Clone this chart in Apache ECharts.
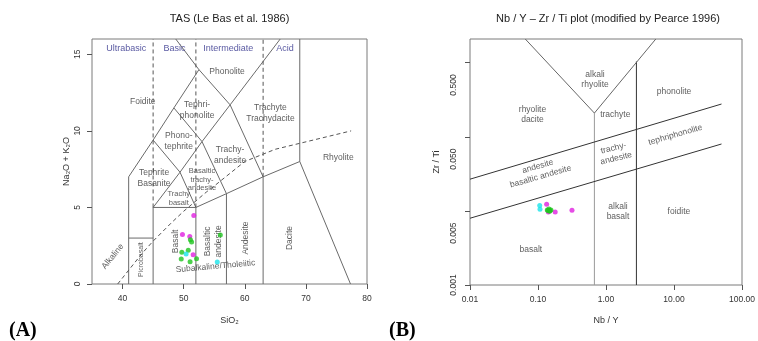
<!DOCTYPE html>
<html><head><meta charset="utf-8">
<script src="https://cdn.jsdelivr.net/npm/echarts@6/dist/echarts.min.js"></script>
<style>html,body{margin:0;padding:0;background:#fff}#c{width:758px;height:341px}</style>
</head><body><div id="c"></div>
<script>
// ---------- Panel A: TAS data ----------
const tasXTicks = [40, 50, 60, 70, 80];
const tasYTicks = [0, 5, 10, 15];
const tasBoundaries = [
  [[41,0],[41,7],[45,9.4],[48.4,11.5],[52.5,14],[48.7,16]],
  [[41,3],[45,3]],
  [[45,0],[45,5],[52,5]],
  [[52,0],[52,5],[57,5.9],[63,7],[69,8],[77.3,0]],
  [[57,0],[57,5.9]],
  [[63,0],[63,7]],
  [[45,5],[49.4,7.3],[52,5]],
  [[45,9.4],[49.4,7.3],[53,9.3],[57,5.9]],
  [[48.4,11.5],[53,9.3],[57.6,11.7],[63,7]],
  [[52.5,14],[57.6,11.7],[65.8,16]],
  [[69,8],[69,16]]
];
const tasDivisions = [[[45,5],[45,16]], [[52,5],[52,16]], [[63,7],[63,16]]];
const alkalineCurve = [[39.2,0],[40,0.4],[43.2,2],[45,2.8],[48,4],[50,4.75],[53.7,6],[55,6.4],[60,8],[65,8.8],[77.4,10]];
const tasGroupNames = ['Ultrabasic','Basic','Intermediate','Acid'];
const tasGroupX = [40.6, 48.5, 57.3, 66.6];
const tasGroupY = [15.4, 15.4, 15.4, 15.4];
const tasFieldNames = ['Foidite','Phonolite','Tephri-\nphonolite','Trachyte\nTrachydacite','Phono-\ntephrite','Trachy-\nandesite','Rhyolite','Tephrite\nBasanite','Basaltic\ntrachy-\nandesite','Trachy\nbasalt','Basalt','Basaltic\nandesite','Andesite','Dacite','Picrobasalt','Alkaline','Subalkaline/Tholeiitic'];
const tasFieldX = [43.3, 57.1, 52.2, 64.2, 49.2, 57.6, 75.3, 45.15, 53.0, 49.2, 48.7, 54.9, 60.2, 67.4, 43.1, 38.4, 55.2];
const tasFieldY = [11.9, 13.9, 11.35, 11.16, 9.31, 8.44, 8.22, 6.92, 6.8, 5.6, 2.78, 2.78, 3.0, 3.0, 1.59, 1.8, 1.15];
const tasMagenta = [[51.66,4.48],[49.8,3.24],[51.0,3.1],[51.55,1.91]];
const tasGreen = [[51.1,2.89],[51.3,2.74],[49.7,2.07],[50.75,2.2],[49.6,1.63],[51.05,1.45],[52.1,1.65],[56.0,3.2]];
const tasCyan = [[50.4,1.96],[55.5,1.44]];

// ---------- Panel B: Nb/Y - Zr/Ti data ----------
const nbyTicks = [0.01, 0.1, 1, 10, 100];
const nbyTickLabels = ['0.01','0.10','1.00','10.00','100.00'];
const zrtiTicks = [0.001, 0.01, 0.1, 1];
const zrtiLabelValues = [0.001, 0.005, 0.05, 0.5];
const pearceBoundaries = [
  [[0.675,0.001],[0.675,0.209]],
  [[2.8,0.001],[2.8,1.04]],
  [[0.065,2.09],[0.675,0.209],[5.4,2.09]],
  [[0.01,0.0268],[50,0.277]],
  [[0.01,0.00796],[50,0.080]]
];
const pearceFieldNames = ['alkali\nrhyolite','rhyolite\ndacite','trachyte','phonolite','trachy-\nandesite','tephriphonolite','andesite\nbasaltic andesite','alkali\nbasalt','foidite','basalt'];
const pearceFieldX = [0.69, 0.083, 1.37, 10, 1.35, 10.5, 0.104, 1.5, 11.8, 0.0786];
const pearceFieldY = [0.589, 0.198, 0.2, 0.41, 0.060, 0.106, 0.034, 0.0098, 0.0098, 0.00297];
const pearceMagenta = [[0.134,0.0123],[0.142,0.0097],[0.179,0.0097],[0.316,0.0102]];
const pearceGreen = [[0.137,0.0103],[0.145,0.0106],[0.150,0.0101],[0.155,0.0103],[0.148,0.0099],[0.140,0.0101]];
const pearceCyan = [[0.106,0.0118],[0.107,0.0105]];

// ---------- styling ----------
const FONT = 'Liberation Sans, Arial, sans-serif';
const TEXT = '#333';
const lg = v => Math.log10(v);
const lgPt = p => [lg(p[0]), lg(p[1])];

const tasFieldRot = [0,0,0,0,0,0,0,0,0,0,90,90,90,90,90,51,5];
const tasFieldSize = [8.5,8.5,8.5,8.5,8.5,8.5,8.5,8.5,7.5,7.5,8.5,8.5,8.5,8.5,7,8.5,8.5];
const tasFieldLH = [11,11,11,11,11,11,11,11,8.5,9,11,11,11,11,11,11,11];
const pearceFieldRot = [0,0,0,0,14,16,16,0,0,0];

function lines(list, xi, color, type, tf) {
  return list.map(pts => ({
    type: 'line', xAxisIndex: xi, yAxisIndex: xi, silent: true, symbol: 'none',
    data: tf ? pts.map(tf) : pts,
    lineStyle: { color: color, width: 1, type: type || 'solid' }, z: 2
  }));
}
function labels(names, xs, ys, xi, rot, size, lh, color, tf) {
  return {
    type: 'scatter', xAxisIndex: xi, yAxisIndex: xi, silent: true, symbolSize: 1,
    itemStyle: { color: 'rgba(0,0,0,0)' }, z: 3,
    data: names.map((n, i) => {
      const p = tf ? tf([xs[i], ys[i]]) : [xs[i], ys[i]];
      return {
        name: n, value: p,
        label: { show: true, position: 'inside', formatter: '{b}', rotate: rot ? rot[i] : 0,
          fontSize: size ? (Array.isArray(size) ? size[i] : size) : 8.5,
          lineHeight: lh ? (Array.isArray(lh) ? lh[i] : lh) : 11,
          color: color, fontFamily: FONT, align: 'center', verticalAlign: 'middle' }
      };
    })
  };
}
function pts(data, xi, color, tf) {
  return { type: 'scatter', xAxisIndex: xi, yAxisIndex: xi, silent: true, symbolSize: 5,
    itemStyle: { color: color }, data: tf ? data.map(tf) : data, z: 5 };
}

const tickLabel = { fontSize: 8.5, color: TEXT, fontFamily: FONT };
const noLine = { show: false, onZero: false };
const series = [].concat(
  lines(tasBoundaries, 0, '#6a6a6a'),
  lines(tasDivisions, 0, '#555', [4, 3]),
  lines([alkalineCurve], 0, '#555', [4, 3]),
  [labels(tasGroupNames, tasGroupX, tasGroupY, 0, null, 9, 11, '#2e2e8a')],
  [labels(tasFieldNames, tasFieldX, tasFieldY, 0, tasFieldRot, tasFieldSize, tasFieldLH, TEXT)],
  [pts(tasMagenta, 0, '#e020e0'), pts(tasGreen, 0, '#1fc41f'), pts(tasCyan, 0, '#19e3ea')],
  lines(pearceBoundaries.slice(0, 1), 1, '#9a9a9a', 'solid', lgPt),
  lines(pearceBoundaries.slice(1, 2), 1, '#333', 'solid', lgPt),
  lines(pearceBoundaries.slice(2, 3), 1, '#666', 'solid', lgPt),
  lines(pearceBoundaries.slice(3), 1, '#333', 'solid', lgPt),
  [labels(pearceFieldNames, pearceFieldX, pearceFieldY, 1, pearceFieldRot, 8.5, 10.5, TEXT, lgPt)],
  [pts(pearceCyan, 1, '#19e3ea', lgPt), pts(pearceMagenta, 1, '#e020e0', lgPt), pts(pearceGreen, 1, '#1fc41f', lgPt)]
);

const option = {
  animation: false,
  grid: [
    { left: 92, top: 39, width: 275, height: 245, show: true, borderColor: '#7a7a7a', borderWidth: 1, backgroundColor: 'transparent' },
    { left: 470, top: 39, width: 276, height: 246, show: true, borderColor: '#7a7a7a', borderWidth: 1, backgroundColor: 'transparent' }
  ],
  xAxis: [
    { type: 'value', gridIndex: 0, min: 35, max: 80,
      name: 'SiO₂', nameLocation: 'middle', nameGap: 32, nameTextStyle: { fontSize: 9, color: TEXT, fontFamily: FONT },
      axisLine: noLine, splitLine: { show: false },
      axisTick: { show: true, inside: false, length: 5, lineStyle: { color: '#555' }, customValues: tasXTicks },
      axisLabel: Object.assign({ margin: 10, customValues: tasXTicks }, tickLabel) },
    { type: 'value', gridIndex: 1, min: lg(0.01), max: lg(100),
      name: 'Nb / Y', nameLocation: 'middle', nameGap: 31, nameTextStyle: { fontSize: 9, color: TEXT, fontFamily: FONT },
      axisLine: noLine, splitLine: { show: false },
      axisTick: { show: true, inside: false, length: 5, lineStyle: { color: '#555' }, customValues: nbyTicks.map(lg) },
      axisLabel: Object.assign({ margin: 10, customValues: nbyTicks.map(lg),
        formatter: v => { let i = nbyTicks.findIndex(t => Math.abs(lg(t) - v) < 1e-6); return i >= 0 ? nbyTickLabels[i] : ''; } }, tickLabel) }
  ],
  yAxis: [
    { type: 'value', gridIndex: 0, min: 0, max: 16,
      name: 'Na₂O + K₂O', nameLocation: 'middle', nameRotate: 90, nameGap: 21, nameTextStyle: { fontSize: 9, color: TEXT, fontFamily: FONT },
      axisLine: noLine, splitLine: { show: false },
      axisTick: { show: true, inside: false, length: 5, lineStyle: { color: '#555' }, customValues: tasYTicks },
      axisLabel: Object.assign({ margin: 10, rotate: 90, customValues: tasYTicks }, tickLabel) },
    { type: 'value', gridIndex: 1, min: lg(0.001), max: lg(2.09),
      name: 'Zr / Ti', nameLocation: 'middle', nameRotate: 90, nameGap: 29, nameTextStyle: { fontSize: 9, color: TEXT, fontFamily: FONT },
      axisLine: noLine, splitLine: { show: false },
      axisTick: { show: true, inside: false, length: 5, lineStyle: { color: '#555' }, customValues: zrtiTicks.map(lg) },
      axisLabel: Object.assign({ margin: 12, rotate: 90, customValues: zrtiLabelValues.map(lg),
        formatter: v => Math.pow(10, v).toFixed(3) }, tickLabel) }
  ],
  graphic: [
    { type: 'text', x: 229.5, y: 19, style: { text: 'TAS (Le Bas et al. 1986)', align: 'center', verticalAlign: 'middle', fontSize: 11, fontFamily: FONT, fill: '#222' } },
    { type: 'text', x: 608, y: 19, style: { text: 'Nb / Y – Zr / Ti plot (modified by Pearce 1996)', align: 'center', verticalAlign: 'middle', fontSize: 11, fontFamily: FONT, fill: '#222' } },
    { type: 'text', x: 9, y: 331, style: { text: '(A)', align: 'left', verticalAlign: 'middle', fontSize: 20, fontWeight: 'bold', fontFamily: 'Liberation Serif, Times New Roman, serif', fill: '#000' } },
    { type: 'text', x: 389, y: 331, style: { text: '(B)', align: 'left', verticalAlign: 'middle', fontSize: 20, fontWeight: 'bold', fontFamily: 'Liberation Serif, Times New Roman, serif', fill: '#000' } }
  ],
  series: series
};
const chart = echarts.init(document.getElementById('c'), null, { renderer: 'canvas' });
chart.setOption(option);
</script></body></html>
